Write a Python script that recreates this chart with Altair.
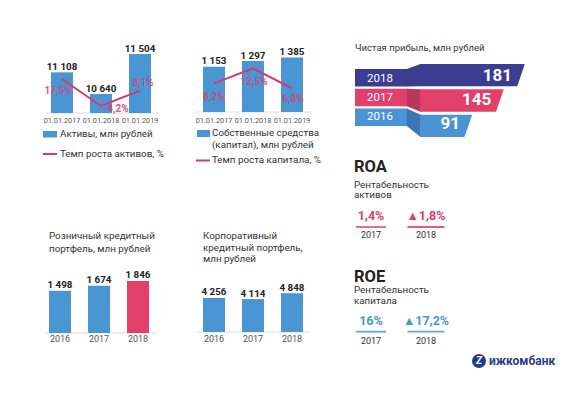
import altair as alt
import pandas as pd

# ---------------- data ----------------
asset_dates = ["01.01.2017", "01.01.2018", "01.01.2019"]
assets = [11108, 10640, 11504]
asset_growth = [17.5, -4.2, 8.1]

capital_dates = ["01.01.2017", "01.01.2018", "01.01.2019"]
capital = [1153, 1297, 1385]
capital_growth = [8.2, 12.5, 6.8]

profit_years = ["2018", "2017", "2016"]
profit = [181, 145, 91]

retail_years = ["2016", "2017", "2018"]
retail = [1498, 1674, 1846]

corp_years = ["2016", "2017", "2018"]
corp = [4256, 4114, 4848]

ratio_years = ["2017", "2018"]
roa = [1.4, 1.8]
roe = [16.0, 17.2]

# ---------------- style ----------------
FONT = "Roboto"
BLUE = "#4a96d5"
PINK = "#e2406b"
LINE = "#d63a6c"
PLBL = "#d4477a"
NAVY = "#3a3d90"
FBLUE = "#4b94d3"
DARK = "#222222"
TXT = "#333333"
TICK = "#555555"
BASE = "#dddddd"

O = 8


def px(v):
    return v - O


def thousands(v):
    return f"{v:,}".replace(",", " ")


def pct(v):
    return f"{v:g}".replace(".", ",") + "%"


DUMMY = pd.DataFrame({"k": [0]})
layers = []


def text(s, x, y, size=9.8, weight="normal", color=TXT, align="left",
         baseline="middle", style="normal"):
    layers.append(
        alt.Chart(DUMMY)
        .mark_text(text=s, font=FONT, fontSize=size, fontWeight=weight, color=color,
                   align=align, baseline=baseline, fontStyle=style)
        .encode(x=alt.value(px(x)), y=alt.value(px(y)))
    )


def band(cats, center0, step=39.0, bw=22.0):
    pi = 1 - bw / step
    r0 = center0 - step / 2
    r1 = r0 + step * len(cats)
    return alt.Scale(domain=cats, range=[px(r0), px(r1)], paddingInner=pi,
                     paddingOuter=pi / 2)


def lin(lo, hi, bottom, top):
    return alt.Scale(domain=[lo, hi], range=[px(bottom), px(top)], zero=False, nice=False)


def baseline(x0, x1, y):
    layers.append(
        alt.Chart(DUMMY).mark_rule(color=BASE, strokeWidth=1)
        .encode(x=alt.value(px(x0)), x2=alt.value(px(x1)), y=alt.value(px(y)))
    )


def bar_panel(cats, vals, xs, ys, lo, color, tick_y, tick_size):
    df = pd.DataFrame({"cat": cats, "val": vals, "lab": [thousands(v) for v in vals]})
    X = alt.X("cat:N", scale=xs, axis=None)
    Y = alt.Y("val:Q", scale=ys, axis=None)
    layers.append(alt.Chart(df).mark_bar().encode(x=X, y=Y, y2=alt.datum(lo), color=color))
    layers.append(
        alt.Chart(df).mark_text(font=FONT, fontSize=9.8, fontWeight="bold", color=DARK,
                                baseline="alphabetic", dy=-2.5)
        .encode(x=X, y=Y, text="lab:N")
    )
    layers.append(
        alt.Chart(df).mark_text(font=FONT, fontSize=tick_size, color=TICK, baseline="middle")
        .encode(x=X, y=alt.value(px(tick_y)), text="cat:N")
    )
    return df, X


def growth_line(cats, g, xs, gs, offsets):
    df = pd.DataFrame({"cat": cats, "g": g, "lab": [pct(v) for v in g]})
    X = alt.X("cat:N", scale=xs, axis=None)
    G = alt.Y("g:Q", scale=gs, axis=None)
    layers.append(alt.Chart(df).mark_line(color=LINE, strokeWidth=2).encode(x=X, y=G))
    for c, (dx, dy) in zip(cats, offsets):
        layers.append(
            alt.Chart(df).transform_filter(alt.datum.cat == c)
            .mark_text(font=FONT, fontSize=10, fontWeight="bold", color=PLBL, opacity=0.9,
                       dx=dx, dy=dy)
            .encode(x=X, y=G, text="lab:N")
        )


# ---------------- chart 1: assets ----------------
xs1 = band(asset_dates, 62)
ys1 = lin(10230, 11504, 113, 54)
gs1 = lin(-10, 30, 113.2, 63.45)
baseline(46, 158, 113)
bar_panel(asset_dates, assets, xs1, ys1, 10230, alt.value(BLUE), 120.5, 7.3)
growth_line(asset_dates, asset_growth, xs1, gs1, [(-4, 12), (15, 3), (3, -8)])
layers.append(
    alt.Chart(DUMMY).mark_rect(color=BLUE)
    .encode(x=alt.value(px(43)), x2=alt.value(px(57)), y=alt.value(px(131)), y2=alt.value(px(137.5)))
)
text("Активы, млн рублей", 60, 134)
layers.append(
    alt.Chart(DUMMY).mark_rule(color=LINE, strokeWidth=2)
    .encode(x=alt.value(px(43)), x2=alt.value(px(57)), y=alt.value(px(154)))
)
text("Темп роста активов, %", 60, 153.5)

# ---------------- chart 2: capital ----------------
xs2 = band(capital_dates, 214)
ys2 = lin(0, 1400, 112, 57)
gs2 = lin(0, 15, 112, 59.6)
baseline(195, 311, 112)
bar_panel(capital_dates, capital, xs2, ys2, 0, alt.value(BLUE), 120.5, 7.3)
growth_line(capital_dates, capital_growth, xs2, gs2, [(0, 14), (1, 14), (1, 11)])
layers.append(
    alt.Chart(DUMMY).mark_rect(color=BLUE)
    .encode(x=alt.value(px(197)), x2=alt.value(px(210)), y=alt.value(px(130)), y2=alt.value(px(137)))
)
text("Собственные средства", 212, 133)
text("(капитал), млн рублей", 212, 145)
layers.append(
    alt.Chart(DUMMY).mark_rule(color=LINE, strokeWidth=2)
    .encode(x=alt.value(px(196)), x2=alt.value(px(210)), y=alt.value(px(160.5)))
)
text("Темп роста капитала, %", 212, 160)

# ---------------- chart 3: retail ----------------
xs3 = band(retail_years, 60)
ys3 = lin(0, 1900, 333, 279.4)
text("Розничный кредитный", 49, 235.7)
text("портфель, млн рублей", 49, 249)
baseline(45, 156, 333)
bar_panel(retail_years, retail, xs3, ys3, 0,
          alt.condition(alt.datum.cat == retail_years[-1], alt.value(PINK), alt.value(BLUE)),
          338.5, 9)

# ---------------- chart 4: corporate ----------------
xs4 = band(corp_years, 214)
ys4 = lin(0, 5000, 332, 292)
text("Корпоративный", 203, 235.7)
text("кредитный портфель,", 203, 247.5)
text("млн рублей", 203, 259)
baseline(197, 310, 332)
bar_panel(corp_years, corp, xs4, ys4, 0, alt.value(BLUE), 338.5, 9)

# ---------------- funnel: net profit ----------------
text("Чистая прибыль, млн рублей", 355, 48.3, size=9.5)
n = len(profit_years)
PF = 0.12
fx = alt.Scale(domain=[0, max(profit)], range=[px(420), px(524.6)], zero=False, nice=False)
fy = alt.Scale(domain=profit_years, range=[px(64), px(137)], paddingInner=PF, paddingOuter=0)
fl = alt.Scale(domain=profit_years, range=[px(69), px(126)], paddingInner=PF, paddingOuter=0)
fcol = alt.Scale(domain=profit_years, range=[NAVY, PINK, FBLUE])
fdark = [NAVY, "#b8375c", "#3b77b4"]


def rows(a, b):
    step = (b - a) / (n - PF)
    return [(a + i * step, a + i * step + step * (1 - PF)) for i in range(n)]


fdf = pd.DataFrame({"year": profit_years, "v": profit})
FY = alt.Y("year:N", scale=fy, axis=None)
FL = alt.Y("year:N", scale=fl, axis=None)
FX = alt.X("v:Q", scale=fx, axis=None)
FC = alt.Color("year:N", scale=fcol, legend=None)

layers.append(
    alt.Chart(fdf).mark_rect()
    .encode(x=alt.value(px(355)), x2=alt.value(px(407.5)), y=FL, color=FC)
)
for (lt, lb), (rt, rb), col in zip(rows(69, 126), rows(64, 137), fdark):
    path = (f"M{px(406.8):.1f},{px(lt):.1f} L{px(420.6):.1f},{px(rt):.1f} "
            f"L{px(420.6):.1f},{px(rb):.1f} L{px(406.8):.1f},{px(lb):.1f} Z")
    layers.append(
        alt.Chart(DUMMY).mark_point(shape=path, size=4, filled=True, color=col, opacity=1,
                                    strokeWidth=0)
        .encode(x=alt.value(0), y=alt.value(0))
    )
layers.append(alt.Chart(fdf).mark_bar().encode(x=FX, x2=alt.datum(0), y=FY, color=FC))
layers.append(
    alt.Chart(fdf).mark_point(shape="M0,-11.4 L2.5,-11.4 L2.5,12.5 L-8.2,12.5 Z", size=4,
                              filled=True, color="white", opacity=1, strokeWidth=0)
    .encode(x=FX, y=FY)
)
layers.append(
    alt.Chart(fdf).mark_text(font=FONT, fontSize=17, fontWeight="bold", color="white",
                             align="right", baseline="middle", dx=-12.5, dy=-0.5)
    .encode(x=FX, y=FY, text="v:Q")
)
layers.append(
    alt.Chart(fdf).mark_text(font=FONT, fontSize=11.5, color="white", align="center",
                             baseline="middle")
    .encode(x=alt.value(px(380)), y=FL, text="year:N")
)

# ---------------- ROA / ROE ----------------
rx = alt.Scale(type="point", domain=ratio_years, range=[px(371), px(426)], padding=0)
RX = alt.X("year:N", scale=rx, axis=None)
TICK_W = [30, 37]


def ratio_block(title, sub1, sub2, vals, color, ty, s1y, s2y, vy, ly, yy):
    text(title, 354, ty, size=16.5, weight="bold", color=DARK)
    text(sub1, 354, s1y)
    text(sub2, 354, s2y)
    labs = []
    for i, v in enumerate(vals):
        s = pct(v)
        if i > 0 and v > vals[i - 1]:
            s = "▲" + s
        labs.append(s)
    df = pd.DataFrame({"year": ratio_years, "val": vals, "lab": labs})
    layers.append(
        alt.Chart(df).mark_text(font=FONT, fontSize=12.5, fontWeight="bold", color=color,
                                baseline="middle")
        .encode(x=RX, y=alt.value(px(vy)), text="lab:N")
    )
    for yr, w in zip(ratio_years, TICK_W):
        layers.append(
            alt.Chart(df).transform_filter(alt.datum.year == yr)
            .mark_tick(orient="horizontal", size=w, thickness=1.8, color=color, opacity=0.85)
            .encode(x=RX, y=alt.value(px(ly)))
        )
    layers.append(
        alt.Chart(df).mark_text(font=FONT, fontSize=9, color=TXT, baseline="middle")
        .encode(x=RX, y=alt.value(px(yy)), text="year:N")
    )


ratio_block("ROA", "Рентабельность", "активов", roa, "#d9416e",
            167, 184.5, 195.3, 215.5, 227, 234.5)
ratio_block("ROE", "Рентабельность", "капитала", roe, BLUE,
            276.7, 290.3, 301.2, 321, 331.7, 340.7)

# ---------------- logo ----------------
layers.append(
    alt.Chart(DUMMY).mark_point(shape="circle", size=196, filled=True, color="#263a86",
                                opacity=1, strokeWidth=0)
    .encode(x=alt.value(px(479)), y=alt.value(px(361)))
)
text("Z", 479, 361, size=10, weight="bold", color="white", align="center", style="italic")
text("ижкомбанк", 489, 361, size=12, weight="bold", color="#2e3b80")

chart = (
    alt.layer(*layers)
    .resolve_scale(x="independent", y="independent", color="independent")
    .properties(width=554, height=377, padding=0,
                autosize=alt.AutoSizeParams(type="none"), background="white")
    .configure_view(stroke=None)
    .configure_text(font=FONT)
)

chart.save("out.html", embed_options={"renderer": "svg", "actions": False})
